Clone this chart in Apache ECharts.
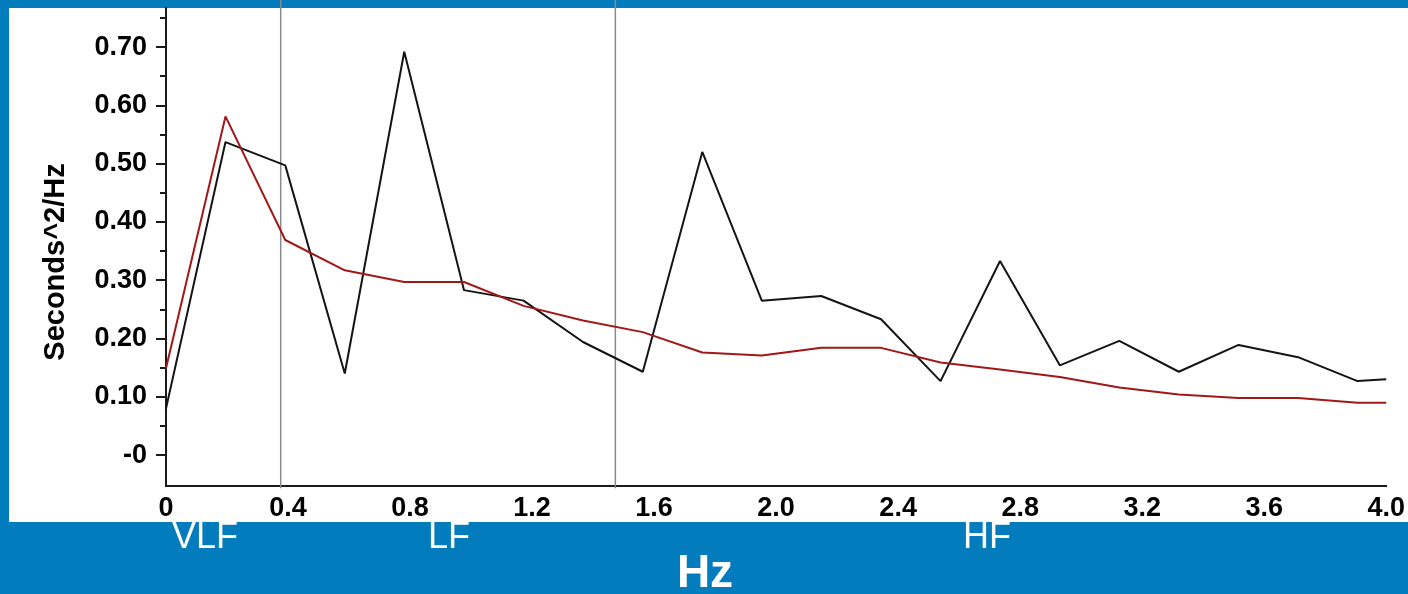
<!DOCTYPE html>
<html>
<head>
<meta charset="utf-8">
<title>Power spectrum</title>
<script src="https://cdn.jsdelivr.net/npm/echarts@6/dist/echarts.min.js"></script>
<style>
  html, body { margin: 0; padding: 0; }
  #frame { position: relative; width: 1408px; height: 594px; background: #027cbd; overflow: hidden; }
  #panel { position: absolute; left: 9px; top: 8px; width: 1399px; height: 514px; background: #ffffff; }
  #chart { position: absolute; left: 0; top: 0; width: 1408px; height: 594px; }
</style>
</head>
<body>
<div id="frame">
  <div id="panel"></div>
  <div id="chart"></div>
</div>
<script>
// Frequency bins (scaled Hz) of the spectrum
const freqs = [0, 0.195, 0.391, 0.586, 0.781, 0.977, 1.172, 1.367, 1.563, 1.758, 1.953,
               2.148, 2.344, 2.539, 2.734, 2.930, 3.125, 3.320, 3.516, 3.711, 3.906, 4.0];
// Raw periodogram power (black trace)
const rawPower = [0.080, 0.537, 0.497, 0.140, 0.692, 0.283, 0.265, 0.194, 0.143, 0.520, 0.265,
                  0.273, 0.233, 0.127, 0.333, 0.154, 0.196, 0.143, 0.189, 0.168, 0.127, 0.130];
// Smoothed spectrum (red trace)
const smoothPower = [0.149, 0.581, 0.369, 0.317, 0.297, 0.297, 0.256, 0.231, 0.211, 0.176, 0.171,
                     0.184, 0.184, 0.159, 0.147, 0.134, 0.116, 0.104, 0.098, 0.098, 0.090, 0.090];
// Band boundaries VLF|LF and LF|HF
const bandEdges = [0.376, 1.473];
// Axis ticks
const yLabelValues = [0, 0.1, 0.2, 0.3, 0.4, 0.5, 0.6, 0.7];
const yMinorValues = [0.05, 0.15, 0.25, 0.35, 0.45, 0.55, 0.65, 0.75];
const bandNames = ['VLF', 'LF', 'HF'];

const FONT = "'Liberation Sans', Arial, sans-serif";
const Y_MIN = -0.053, Y_MAX = 0.767;

const chart = echarts.init(document.getElementById('chart'), null, { renderer: 'canvas' });

const bandSeries = bandEdges.map(f => ({
  type: 'line',
  xAxisIndex: 0, yAxisIndex: 0,
  data: [[f, Y_MIN - 0.004], [f, Y_MAX + 0.014]],
  symbol: 'none',
  clip: false,
  silent: true,
  z: 1,
  lineStyle: { color: '#8a8a8a', width: 1.5 }
}));

chart.setOption({
  animation: false,
  backgroundColor: 'transparent',
  grid: { left: 166, right: 19, top: 8, bottom: 108 },
  xAxis: {
    type: 'value',
    min: 0, max: 4, interval: 0.4,
    axisLine: { show: true, onZero: false, lineStyle: { color: '#1a1a1a', width: 2 } },
    axisTick: { show: false },
    splitLine: { show: false },
    axisLabel: {
      margin: 9,
      color: '#000',
      fontFamily: FONT, fontWeight: 'bold', fontSize: 27,
      formatter: v => (v === 0 ? '0' : v.toFixed(1))
    }
  },
  yAxis: [
    {
      type: 'value',
      min: Y_MIN, max: Y_MAX,
      axisLine: { show: true, onZero: false, lineStyle: { color: '#1a1a1a', width: 2 } },
      axisTick: { show: true, length: 10, customValues: yLabelValues, lineStyle: { color: '#1a1a1a', width: 2 } },
      splitLine: { show: false },
      axisLabel: {
        margin: 19,
        customValues: yLabelValues,
        color: '#000',
        fontFamily: FONT, fontWeight: 'bold', fontSize: 27,
        formatter: v => (Math.abs(v) < 1e-9 ? '-0' : v.toFixed(2))
      }
    },
    {
      type: 'value',
      position: 'left',
      min: Y_MIN, max: Y_MAX,
      axisLine: { show: false },
      axisTick: { show: true, length: 6, customValues: yMinorValues, lineStyle: { color: '#1a1a1a', width: 2 } },
      axisLabel: { show: false },
      splitLine: { show: false }
    }
  ],
  series: [
    ...bandSeries,
    {
      name: 'Spectrum',
      type: 'line',
      data: freqs.map((f, i) => [f, rawPower[i]]),
      symbol: 'none',
      z: 3,
      lineStyle: { color: '#141414', width: 2 }
    },
    {
      name: 'Smoothed',
      type: 'line',
      data: freqs.map((f, i) => [f, smoothPower[i]]),
      symbol: 'none',
      z: 4,
      lineStyle: { color: '#a01818', width: 2 }
    }
  ],
  graphic: [
    {
      type: 'text', x: 56, y: 262, rotation: Math.PI / 2,
      style: { text: 'Seconds^2/Hz', fill: '#000', font: 'bold 29px ' + FONT, align: 'center', verticalAlign: 'middle' }
    },
    {
      type: 'text', x: 205, y: 538,
      style: { text: bandNames[0], fill: '#fff', font: '36px ' + FONT, align: 'center', verticalAlign: 'middle' }
    },
    {
      type: 'text', x: 449, y: 538,
      style: { text: bandNames[1], fill: '#fff', font: '36px ' + FONT, align: 'center', verticalAlign: 'middle' }
    },
    {
      type: 'text', x: 987, y: 538,
      style: { text: bandNames[2], fill: '#fff', font: '36px ' + FONT, align: 'center', verticalAlign: 'middle' }
    },
    {
      type: 'text', x: 705, y: 574,
      style: { text: 'Hz', fill: '#fff', font: 'bold 46px ' + FONT, align: 'center', verticalAlign: 'middle' }
    }
  ]
});
</script>
</body>
</html>
